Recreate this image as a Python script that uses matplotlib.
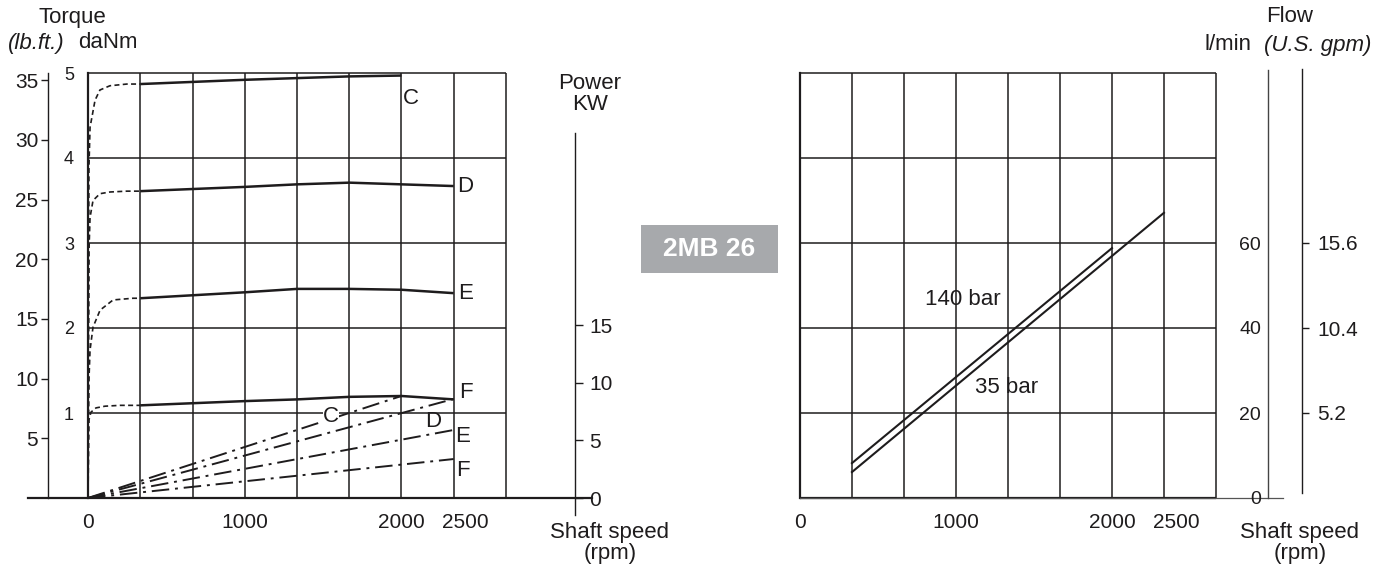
import matplotlib
matplotlib.use('Agg')
import matplotlib.pyplot as plt
from matplotlib import font_manager
from matplotlib.patches import Rectangle

plt.rcParams['font.family'] = ['Liberation Sans', 'DejaVu Sans']

# ---------------- data ----------------
speed_grid = [0, 333.3, 666.7, 1000, 1333.3, 1666.7, 2000, 2333.3, 2666.7]
speed_ticks = [0, 1000, 2000, 2410]
speed_ticklabels = ['0', '1000', '2000', '2500']

torque_danm_ticks = [1, 2, 3, 4, 5]
torque_lbft_ticks = [5, 10, 15, 20, 25, 30, 35]
power_ticks = [0, 5, 10, 15]

# torque curves (rpm, daNm): dashed start-up ramp + solid part
c_ramp_rpm = [0, 3, 6, 13, 45, 76, 140, 248, 333]
c_ramp_torque = [0, 2.33, 3.89, 4.36, 4.68, 4.80, 4.85, 4.87, 4.87]
c_rpm = [333, 1000, 1667, 2000]
c_torque = [4.87, 4.92, 4.96, 4.97]

d_ramp_rpm = [0, 3, 6, 13, 32, 76, 140, 248, 333]
d_ramp_torque = [0, 1.8, 2.9, 3.3, 3.5, 3.58, 3.60, 3.61, 3.61]
d_rpm = [333, 1000, 1333, 1667, 2000, 2333]
d_torque = [3.61, 3.66, 3.69, 3.71, 3.69, 3.67]

e_ramp_rpm = [0, 3, 6, 13, 32, 77, 160, 287, 333]
e_ramp_torque = [0, 0.92, 1.39, 1.74, 2.01, 2.21, 2.33, 2.35, 2.35]
e_rpm = [333, 1000, 1333, 1667, 2000, 2333]
e_torque = [2.35, 2.42, 2.46, 2.46, 2.45, 2.41]

f_ramp_rpm = [0, 2, 4, 6, 19, 51, 108, 204, 333]
f_ramp_torque = [0, 0.33, 0.68, 0.92, 1.01, 1.06, 1.08, 1.09, 1.09]
f_rpm = [333, 1000, 1333, 1667, 2000, 2333]
f_torque = [1.09, 1.14, 1.16, 1.19, 1.20, 1.16]

# power curves (rpm, kW)
c_power_rpm = [0, 2000]
c_power_kw = [0, 8.85]
d_power_rpm = [0, 2333]
d_power_kw = [0, 8.59]
e_power_rpm = [0, 2333]
e_power_kw = [0, 5.9]
f_power_rpm = [0, 2333]
f_power_kw = [0, 3.38]

# flow chart
flow_grid = [20, 40, 60, 80, 100]
flow_lpm_ticks = [0, 20, 40, 60]
flow_gpm_ticks = [5.2, 10.4, 15.6]
flow_upper_rpm = [333, 2000]
flow_upper_lpm = [8.2, 58.8]
flow_lower_rpm = [333, 2333]
flow_lower_lpm = [6.1, 67.1]

# ---------------- style ----------------
W, H = 1391, 572
INK = '#1e1c1d'


def narrow_family():
    try:
        font_manager.findfont('Liberation Sans Narrow', fallback_to_default=False)
        return ['Liberation Sans Narrow', 'Liberation Sans']
    except Exception:
        return ['Liberation Sans']


NARROW = narrow_family()

fig = plt.figure(figsize=(W / 100, H / 100), dpi=100)
fig.patch.set_facecolor('white')


def fx(px):
    return px / W


def fy(py):
    return 1 - py / H


def ax_rect(x0, x1, y0, y1):
    return [fx(x0), fy(y1), (x1 - x0) / W, (y1 - y0) / H]


GRID_LW = 1.1
FRAME_LW = 1.6

# ================= LEFT CHART =================
rpp_l = speed_grid[-1] / (506 - 88)          # rpm per pixel
ax = fig.add_axes(ax_rect(28, 600, 73, 498))
ax.set_xlim(-(88 - 28) * rpp_l, (600 - 88) * rpp_l)
ax.set_ylim(0, 5)
ax.patch.set_alpha(0)
for s in ['top', 'right']:
    ax.spines[s].set_visible(False)
ax.spines['left'].set_position(('data', 0))
ax.spines['left'].set_linewidth(FRAME_LW)
ax.spines['left'].set_color(INK)
ax.spines['bottom'].set_linewidth(FRAME_LW)
ax.spines['bottom'].set_color(INK)
ax.spines['bottom'].set_bounds(-(88 - 28) * rpp_l, (592 - 88) * rpp_l)

ax.vlines(speed_grid[1:], 0, 5, color=INK, lw=GRID_LW, clip_on=False)
ax.hlines(torque_danm_ticks, 0, speed_grid[-1], color=INK, lw=GRID_LW, clip_on=False)

ax.set_yticks(torque_danm_ticks)
ax.set_yticklabels([str(v) for v in torque_danm_ticks], family=NARROW, fontsize=13, color=INK)
ax.tick_params(axis='y', length=0, pad=10)
ax.set_xticks(speed_ticks)
ax.set_xticklabels(speed_ticklabels, family=NARROW, fontsize=15, color=INK)
ax.tick_params(axis='x', length=0, pad=11)

dash = (0, (3, 2))
for rr, rt, sr, st in [(c_ramp_rpm, c_ramp_torque, c_rpm, c_torque),
                       (d_ramp_rpm, d_ramp_torque, d_rpm, d_torque),
                       (e_ramp_rpm, e_ramp_torque, e_rpm, e_torque),
                       (f_ramp_rpm, f_ramp_torque, f_rpm, f_torque)]:
    ax.plot(rr, rt, color=INK, lw=1.2, ls=dash, clip_on=False)
    ax.plot(sr, st, color=INK, lw=1.8, solid_capstyle='butt', clip_on=False)

lab_kw = dict(color=INK, fontsize=16, textcoords='offset points', va='center', ha='center')
ax.annotate('C', (c_rpm[-1], c_torque[-1]), xytext=(6.5, -16.5), **lab_kw)
ax.annotate('D', (d_rpm[-1], d_torque[-1]), xytext=(8.6, 0), **lab_kw)
ax.annotate('E', (e_rpm[-1], e_torque[-1]), xytext=(8.6, 0), **lab_kw)
ax.annotate('F', (f_rpm[-1], f_torque[-1]), xytext=(8.6, 5), **lab_kw)

# lb.ft axis
ax_lb = ax.twinx()
ax_lb.set_ylim(0, 425 / 11.94)
for s in ['top', 'right', 'bottom']:
    ax_lb.spines[s].set_visible(False)
ax_lb.spines['left'].set_visible(True)
ax_lb.spines['left'].set_position(('data', (48 - 88) * rpp_l))
ax_lb.spines['left'].set_color(INK)
ax_lb.spines['left'].set_linewidth(1.0)
ax_lb.yaxis.tick_left()
ax_lb.set_yticks(torque_lbft_ticks)
ax_lb.set_yticklabels([str(v) for v in torque_lbft_ticks], fontsize=15, color=INK)
ax_lb.tick_params(axis='y', length=5, width=1, pad=2, color=INK, direction='out')

# power axis
kw_px = 11.53
ax_pw = ax.twinx()
ax_pw.set_ylim(0, 425 / kw_px)
for s in ['top', 'left', 'bottom']:
    ax_pw.spines[s].set_visible(False)
ax_pw.spines['right'].set_position(('data', (575 - 88) * rpp_l))
ax_pw.spines['right'].set_bounds(-17 / kw_px, 365 / kw_px)
ax_pw.spines['right'].set_color(INK)
ax_pw.spines['right'].set_linewidth(1.0)
ax_pw.set_yticks(power_ticks)
ax_pw.set_yticklabels([str(v) for v in power_ticks], fontsize=15, color=INK)
ax_pw.tick_params(axis='y', length=6, width=1, pad=4, color=INK, direction='out')

dashdot = (0, (9, 3, 1.5, 3))
for pr, pk in [(c_power_rpm, c_power_kw), (d_power_rpm, d_power_kw),
               (e_power_rpm, e_power_kw), (f_power_rpm, f_power_kw)]:
    ax_pw.plot(pr, pk, color=INK, lw=1.4, ls=dashdot)

plab = dict(color=INK, fontsize=16, textcoords='offset points', va='center', ha='center')
ax_pw.annotate('C', (c_power_rpm[-1], c_power_kw[-1]), xytext=(-51, -15),
               bbox=dict(boxstyle='square,pad=0', fc='white', ec='none'), **plab)
ax_pw.annotate('D', (d_power_rpm[-1], d_power_kw[-1]), xytext=(-15, -16), **plab)
ax_pw.annotate('E', (e_power_rpm[-1], e_power_kw[-1]), xytext=(6.5, -5), **plab)
ax_pw.annotate('F', (f_power_rpm[-1], f_power_kw[-1]), xytext=(6.5, -8), **plab)

# left texts
fig.text(fx(72), fy(18), 'Torque', ha='center', va='center', fontsize=16, color=INK)
fig.text(fx(36), fy(43), '(lb.ft.)', ha='center', va='center', fontsize=16, style='italic', color=INK)
fig.text(fx(108), fy(43), 'daNm', ha='center', va='center', fontsize=16, color=INK)
fig.text(fx(590), fy(94), 'Power\nKW', ha='center', va='center', fontsize=16,
         color=INK, linespacing=1.05)
fig.text(fx(610), fy(543), 'Shaft speed\n(rpm)', ha='center', va='center', fontsize=16,
         color=INK, linespacing=1.05)

# center badge
fig.patches.append(Rectangle((fx(641), fy(273)), 137 / W, 48 / H, transform=fig.transFigure,
                             facecolor='#a7a9ac', edgecolor='none'))
fig.text(fx(709.5), fy(249), '2MB 26', ha='center', va='center', fontsize=19,
         fontweight='bold', color='white')

# ================= RIGHT CHART =================
rpp_r = speed_grid[-1] / (1216 - 800)
axr = fig.add_axes(ax_rect(800, 1310, 73, 498))
axr.set_xlim(0, (1310 - 800) * rpp_r)
axr.set_ylim(0, 100)
axr.patch.set_alpha(0)
for s in ['top', 'right']:
    axr.spines[s].set_visible(False)
axr.spines['left'].set_linewidth(FRAME_LW)
axr.spines['left'].set_color(INK)
axr.spines['bottom'].set_linewidth(0.9)
axr.spines['bottom'].set_color('#555555')
axr.spines['bottom'].set_bounds(0, (1283 - 800) * rpp_r)
axr.set_yticks([])
axr.hlines(0, 0, speed_grid[-1], color=INK, lw=FRAME_LW, clip_on=False)
axr.vlines(speed_grid[1:], 0, 100, color=INK, lw=GRID_LW, clip_on=False)
axr.hlines(flow_grid, 0, speed_grid[-1], color=INK, lw=GRID_LW, clip_on=False)
axr.set_xticks(speed_ticks)
axr.set_xticklabels(speed_ticklabels, family=NARROW, fontsize=15, color=INK)
axr.tick_params(axis='x', length=0, pad=11)

axr.plot(flow_upper_rpm, flow_upper_lpm, color=INK, lw=1.5)
axr.plot(flow_lower_rpm, flow_lower_lpm, color=INK, lw=1.5)
axr.text(1045, 46.8, '140 bar', ha='center', va='center', fontsize=16, color=INK)
axr.text(1327, 25.9, '35 bar', ha='center', va='center', fontsize=16, color=INK)

# l/min axis
ax_lpm = axr.twinx()
ax_lpm.set_ylim(0, 100)
for s in ['top', 'right', 'bottom']:
    ax_lpm.spines[s].set_visible(False)
ax_lpm.spines['left'].set_visible(True)
ax_lpm.spines['left'].set_position(('data', (1268 - 800) * rpp_r))
ax_lpm.spines['left'].set_bounds(0, 100.7)
ax_lpm.spines['left'].set_color('#444444')
ax_lpm.spines['left'].set_linewidth(1.0)
ax_lpm.yaxis.tick_left()
ax_lpm.set_yticks(flow_lpm_ticks)
ax_lpm.set_yticklabels([str(v) for v in flow_lpm_ticks], family=NARROW, fontsize=14, color=INK)
ax_lpm.tick_params(axis='y', length=0, pad=5)

# gpm axis
ax_gpm = axr.twinx()
ax_gpm.set_ylim(0, 26)
for s in ['top', 'left', 'bottom']:
    ax_gpm.spines[s].set_visible(False)
ax_gpm.spines['right'].set_position(('data', (1302 - 800) * rpp_r))
ax_gpm.spines['right'].set_bounds(0.3, 26.24)
ax_gpm.spines['right'].set_color(INK)
ax_gpm.spines['right'].set_linewidth(1.0)
ax_gpm.set_yticks(flow_gpm_ticks)
ax_gpm.set_yticklabels([str(v) for v in flow_gpm_ticks], fontsize=15, color=INK)
ax_gpm.tick_params(axis='y', length=5, width=1, pad=6, color=INK, direction='out')

fig.text(fx(1290), fy(17), 'Flow', ha='center', va='center', fontsize=16, color=INK)
fig.text(fx(1228), fy(45), 'l/min', ha='center', va='center', fontsize=16, color=INK)
fig.text(fx(1318), fy(45), '(U.S. gpm)', ha='center', va='center', fontsize=16,
         style='italic', color=INK)
fig.text(fx(1300), fy(543), 'Shaft speed\n(rpm)', ha='center', va='center', fontsize=16,
         color=INK, linespacing=1.05)

fig.savefig('out.png', dpi=100, facecolor='white')
